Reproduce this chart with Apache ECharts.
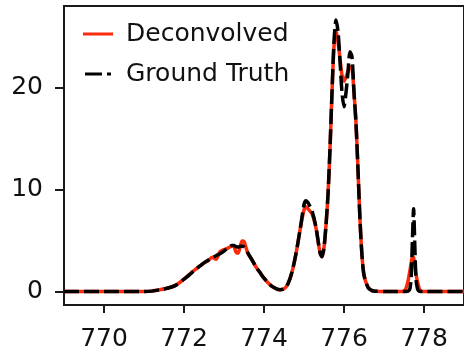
<!DOCTYPE html>
<html>
<head>
<meta charset="utf-8">
<script src="https://cdn.jsdelivr.net/npm/echarts@6/dist/echarts.min.js"></script>
<style>
html,body{margin:0;padding:0;background:#fff;}
#chart{width:464px;height:353px;}
</style>
</head>
<body>
<div id="chart"></div>
<script>
const seriesNames = ["Deconvolved", "Ground Truth"];
const xTicks = [770, 772, 774, 776, 778];
const yTicks = [0, 10, 20];
const xs = [769.0, 770.0, 771.0, 771.2, 771.4, 771.6, 771.8, 772.0, 772.1, 772.2, 772.3, 772.4, 772.5, 772.6, 772.7, 772.8, 772.9, 773.0, 773.1, 773.2, 773.25, 773.3, 773.35, 773.4, 773.45, 773.5, 773.55, 773.6, 773.7, 773.8, 773.9, 774.0, 774.1, 774.2, 774.3, 774.4, 774.5, 774.6, 774.7, 774.8, 774.9, 775.0, 775.05, 775.1, 775.2, 775.3, 775.4, 775.45, 775.5, 775.55, 775.6, 775.65, 775.7, 775.75, 775.8, 775.85, 775.9, 775.95, 776.0, 776.05, 776.1, 776.15, 776.2, 776.25, 776.3, 776.35, 776.4, 776.45, 776.5, 776.6, 776.7, 776.8, 777.0, 777.45, 777.5, 777.55, 777.6, 777.65, 777.68, 777.71, 777.74, 777.77, 777.8, 777.84, 777.88, 777.92, 778.0, 779.0];
const deconvolved = [0, 0, 0, 0.03, 0.17, 0.34, 0.62, 1.2, 1.55, 1.9, 2.2, 2.5, 2.8, 3.0, 3.35, 3.15, 3.9, 4.1, 4.25, 4.45, 4.4, 3.85, 3.75, 4.3, 4.95, 4.9, 4.3, 3.7, 3.1, 2.4, 1.85, 1.3, 0.85, 0.5, 0.28, 0.17, 0.25, 0.75, 1.9, 3.7, 6.0, 8.0, 8.3, 8.1, 7.6, 6.2, 3.8, 3.4, 4.3, 6.5, 9.5, 14, 19.5, 24, 25.6, 24.5, 22.8, 21.2, 20.6, 21.0, 21.6, 22.0, 21.9, 19.5, 16.5, 11.9, 7.0, 3.5, 1.6, 0.4, 0.08, 0.02, 0, 0, 0.05, 0.3, 1.0, 2.1, 2.8, 3.4, 3.3, 2.6, 1.7, 0.9, 0.3, 0.05, 0, 0];
const groundTruth = [0, 0, 0, 0.03, 0.17, 0.34, 0.62, 1.2, 1.5, 1.85, 2.2, 2.5, 2.8, 3.05, 3.3, 3.5, 3.7, 3.95, 4.3, 4.5, 4.5, 4.4, 4.35, 4.4, 4.45, 4.35, 4.1, 3.75, 3.1, 2.4, 1.85, 1.3, 0.85, 0.5, 0.28, 0.17, 0.25, 0.75, 1.9, 3.7, 6.0, 8.5, 8.9, 8.7, 7.9, 6.3, 3.8, 3.4, 4.3, 6.5, 9.5, 14, 19.5, 24.5, 26.6, 25.5, 22.6, 19.5, 18.1, 19.5, 21.5, 23.5, 23.0, 19.5, 16.5, 11.9, 7.0, 3.5, 1.6, 0.4, 0.08, 0.02, 0, 0, 0, 0, 0.02, 0.3, 1.5, 5.0, 8.1, 4.5, 1.2, 0.2, 0.02, 0, 0, 0];

const pairs = (ys) => xs.map((x, i) => [x, ys[i]]);
const FONT = "DejaVu Sans";
const AX = "#1a1a1a";
const TXT = "#111";
const RED = "#fb2a0c";

const chart = echarts.init(document.getElementById("chart"), null, {renderer: "canvas"});
chart.setOption({
  animation: false,
  backgroundColor: "#fff",
  grid: {left: 64, top: 6, right: -5, bottom: 48, show: true, borderColor: AX, borderWidth: 2, backgroundColor: "transparent"},
  legend: {
    orient: "vertical", left: 78, top: 14,
    itemWidth: 30, itemHeight: 3, itemGap: 10,
    data: [
      {name: seriesNames[0], icon: "path://M0,0h30v3h-30z", itemStyle: {color: RED}},
      {name: seriesNames[1], icon: "path://M0,0h17v3h-17zM22,0h4v3h-4z", itemStyle: {color: "#000"}}
    ],
    textStyle: {fontFamily: FONT, fontSize: 25, color: TXT, lineHeight: 30, padding: [0, 0, 0, 8]}
  },
  xAxis: {
    type: "value", min: 769, max: 779,
    splitLine: {show: false},
    axisLine: {show: true, onZero: false, lineStyle: {color: AX, width: 2}},
    axisTick: {show: true, length: 8, lineStyle: {color: AX, width: 2}, customValues: xTicks},
    axisLabel: {fontFamily: FONT, fontSize: 25, color: TXT, margin: 22, customValues: xTicks}
  },
  yAxis: {
    type: "value", min: -1.33, max: 27.98,
    splitLine: {show: false},
    axisLine: {show: true, onZero: false, lineStyle: {color: AX, width: 2}},
    axisTick: {show: true, length: 9, lineStyle: {color: AX, width: 2}, customValues: yTicks},
    axisLabel: {fontFamily: FONT, fontSize: 25, color: TXT, margin: 21, customValues: yTicks}
  },
  series: [
    {
      name: seriesNames[0], type: "line", data: pairs(deconvolved),
      symbol: "none", smooth: 0.25, z: 2,
      lineStyle: {color: RED, width: 3.5},
      itemStyle: {color: RED}
    },
    {
      name: seriesNames[1], type: "line", data: pairs(groundTruth),
      symbol: "none", smooth: 0.25, z: 3,
      lineStyle: {color: "#000", width: 3.5, type: [15, 5]},
      itemStyle: {color: "#000"}
    }
  ]
});
</script>
</body>
</html>
